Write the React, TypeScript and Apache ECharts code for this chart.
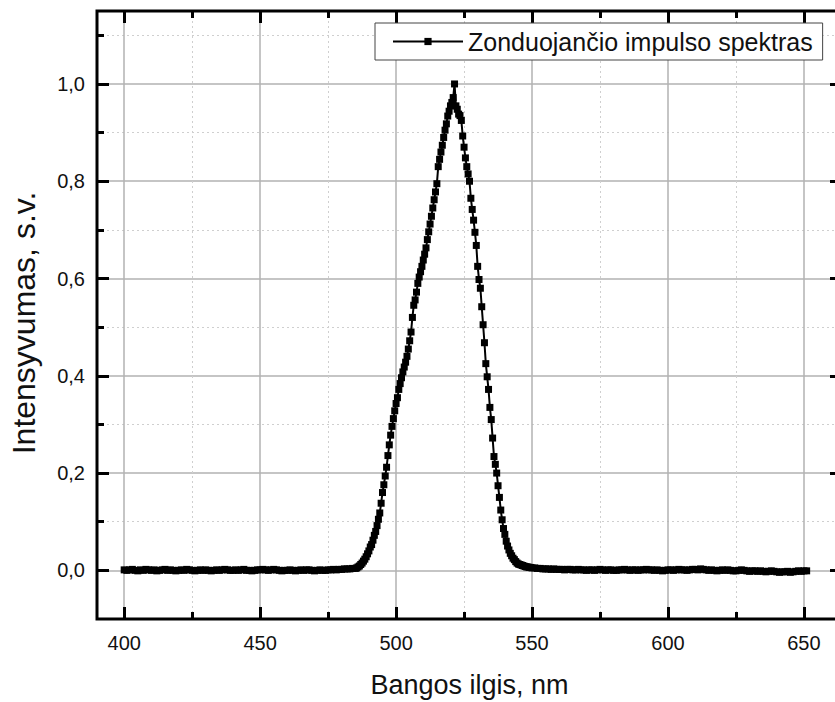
import { useEffect, useRef } from "react";
import * as echarts from "echarts";

// Sampling grids (nm)
const LEFT_START = 400;
const LEFT_STEP = 1;
const PEAK_START = 485;
const PEAK_STEP = 0.5;
const RIGHT_START = 551;
const RIGHT_STEP = 1;

// Baseline before the pulse, 400 … 484 nm
const leftBaseline = [
  0.001, 0.000, 0.001, 0.002, 0.000, -0.001, 0.001, 0.000, 0.002, 0.001,
  0.000, 0.001, -0.001, 0.000, 0.001, 0.002, 0.000, 0.001, 0.000, -0.001,
  0.000, 0.001, 0.000, 0.002, 0.001, 0.000, -0.001, 0.000, 0.001, 0.000,
  0.001, 0.000, -0.001, 0.000, 0.001, 0.000, 0.001, 0.002, 0.001, 0.000,
  0.000, 0.001, 0.000, 0.001, 0.002, 0.000, 0.000, -0.001, 0.000, 0.001,
  0.001, 0.002, 0.001, 0.000, 0.001, 0.002, 0.001, 0.000, -0.001, 0.000,
  0.000, 0.001, 0.000, -0.001, 0.000, 0.001, 0.000, 0.001, 0.001, 0.000,
  -0.001, 0.000, 0.001, 0.000, 0.000, 0.001, 0.001, 0.002, 0.001, 0.002,
  0.002, 0.003, 0.003, 0.003, 0.004,
];

// Pulse, 485 … 550 nm
const peakValues = [
  0.004, 0.005, 0.007, 0.009, 0.012, 0.015, 0.019, 0.023, 0.028, 0.034,
  0.040, 0.048, 0.053, 0.062, 0.072, 0.080, 0.092, 0.105, 0.118, 0.138,
  0.160, 0.176, 0.194, 0.212, 0.236, 0.258, 0.278, 0.296, 0.312, 0.328,
  0.343, 0.355, 0.372, 0.384, 0.396, 0.408, 0.418, 0.428, 0.440, 0.455,
  0.472, 0.490, 0.520, 0.545, 0.556, 0.572, 0.590, 0.603, 0.614, 0.625,
  0.638, 0.650, 0.663, 0.680, 0.696, 0.712, 0.728, 0.745, 0.762, 0.778,
  0.795, 0.830, 0.845, 0.860, 0.874, 0.890, 0.905, 0.918, 0.934, 0.944,
  0.955, 0.962, 0.972, 1.000, 0.955, 0.948, 0.938, 0.935, 0.925, 0.893,
  0.870, 0.848, 0.830, 0.815, 0.800, 0.765, 0.742, 0.720, 0.695, 0.668,
  0.625, 0.598, 0.580, 0.542, 0.505, 0.468, 0.425, 0.398, 0.372, 0.335,
  0.310, 0.272, 0.234, 0.218, 0.200, 0.174, 0.150, 0.124, 0.104, 0.086,
  0.074, 0.060, 0.050, 0.042, 0.035, 0.030, 0.025, 0.022, 0.018, 0.015,
  0.013, 0.012, 0.011, 0.010, 0.009, 0.008, 0.007, 0.007, 0.006, 0.006,
  0.005,
];

// Baseline after the pulse, 551 … 651 nm
const rightBaseline = [
  0.005, 0.004, 0.004, 0.003, 0.003, 0.003, 0.002, 0.003, 0.002, 0.002,
  0.002, 0.001, 0.002, 0.002, 0.001, 0.001, 0.002, 0.001, 0.001, 0.000,
  0.001, 0.001, 0.000, 0.001, 0.002, 0.001, 0.000, 0.001, 0.001, 0.000,
  0.000, 0.001, 0.001, 0.002, 0.001, 0.000, 0.001, 0.001, 0.000, 0.001,
  0.001, 0.002, 0.001, 0.001, 0.000, 0.001, 0.000, -0.001, 0.000, 0.001,
  0.001, 0.000, 0.001, 0.002, 0.001, 0.001, 0.000, 0.001, 0.002, 0.002,
  0.001, 0.003, 0.002, 0.001, 0.000, 0.001, 0.000, -0.001, 0.000, 0.001,
  0.000, 0.001, 0.000, -0.001, -0.001, 0.000, 0.001, 0.000, -0.001, -0.002,
  -0.001, -0.001, -0.002, -0.001, -0.002, -0.003, -0.002, -0.001, -0.002, -0.003,
  -0.004, -0.003, -0.003, -0.002, -0.004, -0.003, -0.002, -0.001, -0.002, -0.001,
  -0.001,
];

const xMajorTicks = [400, 450, 500, 550, 600, 650];
const xMinorTicks = [425, 475, 525, 575, 625];
const yMajorTicks = [0, 0.2, 0.4, 0.6, 0.8, 1.0];
const yMinorTicks = [0.1, 0.3, 0.5, 0.7, 0.9, 1.1];

const SERIES_NAME = "Zonduojančio impulso spektras";
const X_TITLE = "Bangos ilgis, nm";
const Y_TITLE = "Intensyvumas, s.v.";

const X_MIN = 390;
const X_MAX = 664;
const Y_MIN = -0.1;
const Y_MAX = 1.15;

export default function App() {
  const ref = useRef<HTMLDivElement>(null);

  useEffect(() => {
    if (!ref.current) return;
    const chart = echarts.init(ref.current, null, { renderer: "svg" });
    const font = "'Liberation Sans', Arial, sans-serif";
    const fmt = (v: number) => v.toFixed(1).replace(".", ",");

    const points: number[][] = [
      ...leftBaseline.map((v, i) => [LEFT_START + i * LEFT_STEP, v]),
      ...peakValues.map((v, i) => [PEAK_START + i * PEAK_STEP, v]),
      ...rightBaseline.map((v, i) => [RIGHT_START + i * RIGHT_STEP, v]),
    ];

    const noLine = () => ({ show: false, onZero: false });
    const tick = (vals: number[], len: number) => ({
      show: true,
      inside: true,
      length: len,
      customValues: vals,
      lineStyle: { color: "#000", width: 3 },
    });
    const hiddenTick = (vals: number[]) => ({ show: false, customValues: vals });
    const labelStyle = { fontSize: 20, color: "#111", fontFamily: font };

    const xBase = { type: "value", min: X_MIN, max: X_MAX, gridIndex: 0 };
    const yBase = { type: "value", min: Y_MIN, max: Y_MAX, gridIndex: 0 };

    // axes that only draw grid lines (listed first so they render underneath)
    const gridAxis = (base: object, position: string, vals: number[], minor: boolean) => ({
      ...base,
      position,
      z: 0,
      axisLine: noLine(),
      axisTick: hiddenTick(vals),
      axisLabel: { show: false },
      splitLine: {
        show: true,
        lineStyle: minor
          ? { color: "#cfcfcf", width: 1, type: [2, 3] }
          : { color: "#b2b2b2", width: 1.5, type: "solid" },
      },
    });
    // axes that draw only the inward ticks (on top of the grid)
    const tickAxis = (base: object, position: string, vals: number[], len: number) => ({
      ...base,
      position,
      z: 3,
      axisLine: noLine(),
      axisTick: tick(vals, len),
      axisLabel: { show: false },
      splitLine: { show: false },
    });

    chart.setOption({
      animation: false,
      backgroundColor: "#ffffff",
      grid: {
        left: 97,
        top: 11,
        right: 8,
        bottom: 83,
        show: true,
        borderColor: "#000",
        borderWidth: 3,
        backgroundColor: "transparent",
        containLabel: false,
        outerBoundsMode: "none",
      },
      legend: {
        show: true,
        left: 375,
        top: 23,
        z: 6,
        backgroundColor: "#ffffff",
        borderColor: "#444",
        borderWidth: 1,
        borderRadius: 0,
        padding: [6, 10, 6, 17],
        itemWidth: 70,
        itemHeight: 9,
        textStyle: { fontSize: 25, color: "#111", fontFamily: font },
        data: [SERIES_NAME],
      },
      xAxis: [
        gridAxis(xBase, "bottom", xMajorTicks, false),
        gridAxis(xBase, "bottom", xMinorTicks, true),
        {
          ...xBase,
          position: "bottom",
          z: 3,
          axisLine: noLine(),
          axisTick: tick(xMajorTicks, 12),
          axisLabel: { ...labelStyle, customValues: xMajorTicks, margin: 14 },
          splitLine: { show: false },
          name: X_TITLE,
          nameLocation: "middle",
          nameGap: 52,
          nameTextStyle: { fontSize: 27, color: "#111", fontFamily: font },
        },
        tickAxis(xBase, "bottom", xMinorTicks, 7),
        tickAxis(xBase, "top", xMajorTicks, 12),
        tickAxis(xBase, "top", xMinorTicks, 7),
      ],
      yAxis: [
        gridAxis(yBase, "left", yMajorTicks, false),
        gridAxis(yBase, "left", yMinorTicks, true),
        {
          ...yBase,
          position: "left",
          z: 3,
          axisLine: noLine(),
          axisTick: tick(yMajorTicks, 12),
          axisLabel: { ...labelStyle, customValues: yMajorTicks, margin: 12, formatter: fmt },
          splitLine: { show: false },
          name: Y_TITLE,
          nameLocation: "middle",
          nameGap: 57,
          nameTextStyle: { fontSize: 32, color: "#111", fontFamily: font, padding: [0, 16, 0, 0] },
        },
        tickAxis(yBase, "left", yMinorTicks, 7),
        tickAxis(yBase, "right", yMajorTicks, 12),
        tickAxis(yBase, "right", yMinorTicks, 7),
      ],
      series: [
        {
          name: SERIES_NAME,
          type: "line",
          xAxisIndex: 2,
          yAxisIndex: 2,
          data: points,
          symbol: "rect",
          symbolSize: 7,
          showSymbol: true,
          lineStyle: { color: "#000", width: 2 },
          itemStyle: { color: "#000" },
          z: 5,
        },
      ],
    });

    return () => chart.dispose();
  }, []);

  return (
    <div
      style={{
        position: "fixed",
        left: 0,
        top: 0,
        width: 835,
        height: 702,
        overflow: "hidden",
        background: "#fff",
      }}
    >
      <div ref={ref} style={{ width: 850, height: 702 }} />
    </div>
  );
}
